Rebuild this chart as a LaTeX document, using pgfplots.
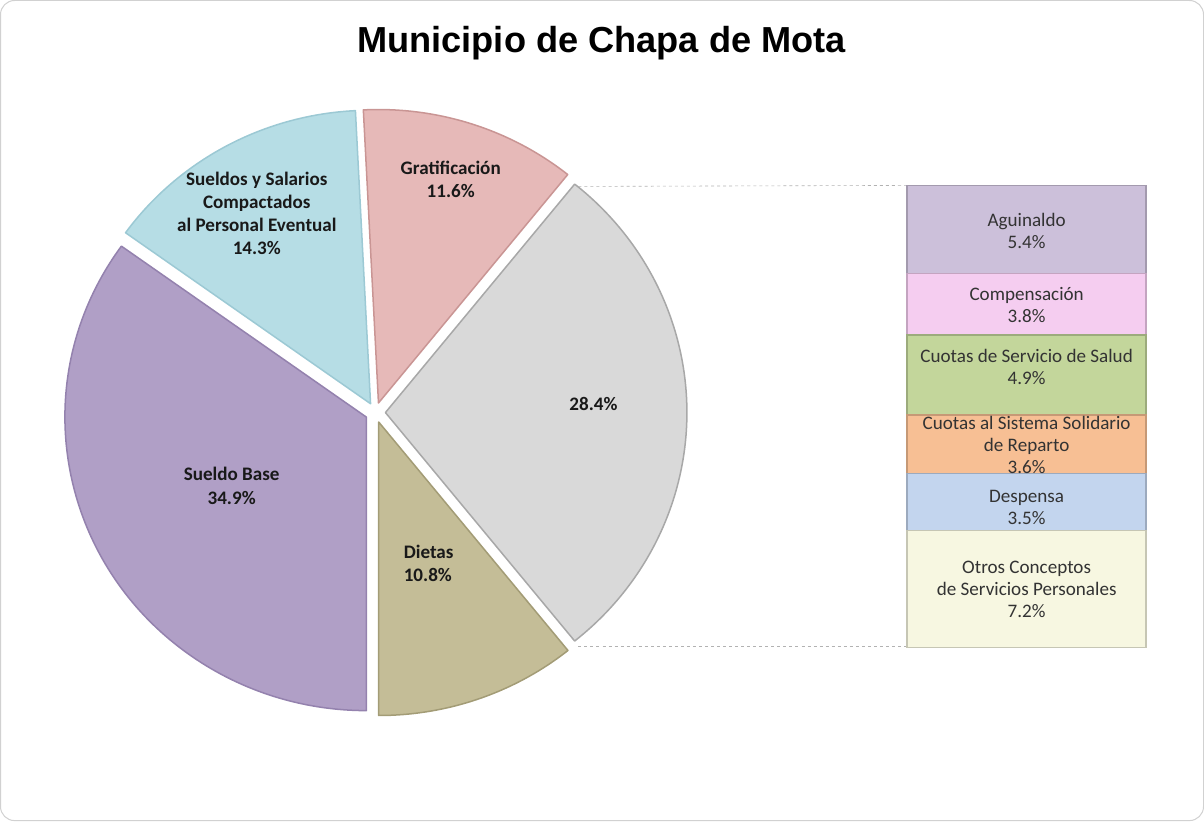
\documentclass[border=0pt]{standalone}
\usepackage{pgfplots}
\pgfplotsset{compat=1.18}
\usepackage{fontspec}
\setmainfont{Carlito}
\newfontfamily\titlefont{Liberation Sans}
\definecolor{cGray}{HTML}{D9D9D9}\definecolor{dGray}{HTML}{A8A8A8}
\definecolor{cGrat}{HTML}{E6B9B8}\definecolor{dGrat}{HTML}{C99594}
\definecolor{cSyS}{HTML}{B6DDE5}\definecolor{dSyS}{HTML}{9CC9D4}
\definecolor{cSB}{HTML}{B09FC6}\definecolor{dSB}{HTML}{9482AE}
\definecolor{cDiet}{HTML}{C4BD97}\definecolor{dDiet}{HTML}{A39C76}
\definecolor{cAgu}{HTML}{CCC0DA}
\definecolor{cComp}{HTML}{F5CDF0}
\definecolor{cSal}{HTML}{C3D69B}
\definecolor{cSis}{HTML}{F7BF94}
\definecolor{cDesp}{HTML}{C3D5EE}
\definecolor{cOtr}{HTML}{F7F7E1}
\begin{document}
\begin{tikzpicture}
\begin{axis}[at={(0pt,0pt)}, anchor=south west, width=1204pt, height=824pt,
  scale only axis, xmin=0, xmax=1204, ymin=0, ymax=824, hide axis, clip=false]
% frame
\draw[draw=black!18, line width=1pt, rounded corners=14pt] (axis cs:3,4) rectangle (axis cs:1200,820);
% pie: value/fill/draw, counterclockwise from the "other" slice centred on 0 deg
\foreach \v/\fc/\dc [remember=\aend as \astart (initially -51.12)] in
   {28.4/cGray/dGray, 11.6/cGrat/dGrat, 14.3/cSyS/dSyS, 34.9/cSB/dSB, 10.8/cDiet/dDiet} {
  \pgfmathsetmacro\aend{\astart+3.6*\v}
  \pgfmathsetmacro\amid{(\astart+\aend)/2}
  \pgfmathsetmacro\ax{376+10*cos(\amid)}
  \pgfmathsetmacro\ay{410+10*sin(\amid)}
  \pgfmathsetmacro\sx{300*cos(\astart)}
  \pgfmathsetmacro\sy{292*sin(\astart)}
  \edef\temp{\noexpand\filldraw[fill=\fc, draw=\dc, line width=1.5pt, line join=round]
     (axis cs:\ax,\ay) -- ++(\sx pt,\sy pt)
     arc[start angle=\astart, end angle=\aend, x radius=300pt, y radius=292pt] -- cycle;}
  \temp
}
% connector lines
\draw[black!30, dashed, line width=0.6pt] (axis cs:578,635) -- (axis cs:905,636);
\draw[black!30, dashed, line width=0.6pt] (axis cs:578,177) -- (axis cs:905,177);
% title
\node[anchor=base, font=\titlefont\bfseries\fontsize{36}{40}\selectfont] at (axis cs:601,768) {Municipio de Chapa de Mota};
% pie labels
\begin{scope}[every node/.style={align=center, text=black!90, font=\bfseries\fontsize{19}{23}\selectfont}]
\node at (axis cs:258,608) {Sueldos y Salarios\\Compactados\\al Personal Eventual\\14.3\%};
\node at (axis cs:451,642) {Gratificación\\11.6\%};
\node at (axis cs:593,419) {28.4\%};
\node at (axis cs:233,337) {Sueldo Base\\34.9\%};
\node[align=left] at (axis cs:429,260) {Dietas\\10.8\%};
\end{scope}
\end{axis}
\begin{axis}[at={(905pt,176pt)}, anchor=south west, width=238pt, height=460pt,
  scale only axis, xmin=-0.5, xmax=0.5, ymin=0, ymax=28.4, hide axis, clip=false,
  ybar stacked, bar width=1]
\addplot[fill=cOtr, draw=cOtr!80!black, line width=1.5pt] coordinates {(0,7.2)};
\addplot[fill=cDesp, draw=cDesp!80!black, line width=1.5pt] coordinates {(0,3.5)};
\addplot[fill=cSis, draw=cSis!80!black, line width=1.5pt] coordinates {(0,3.6)};
\addplot[fill=cSal, draw=cSal!80!black, line width=1.5pt] coordinates {(0,4.9)};
\addplot[fill=cComp, draw=cComp!80!black, line width=1.5pt] coordinates {(0,3.8)};
\addplot[fill=cAgu, draw=cAgu!80!black, line width=1.5pt] coordinates {(0,5.4)};
\end{axis}
\begin{axis}[at={(0pt,0pt)}, anchor=south west, width=1204pt, height=824pt,
  scale only axis, xmin=0, xmax=1204, ymin=0, ymax=824, hide axis, clip=false]
\begin{scope}[every node/.style={align=center, text=black!80, font=\fontsize{19}{22}\selectfont}]
\node at (axis cs:1024,591) {Aguinaldo\\5.4\%};
\node at (axis cs:1024,517) {Compensación\\3.8\%};
\node at (axis cs:1024,455) {Cuotas de Servicio de Salud\\4.9\%};
\node at (axis cs:1024,378) {Cuotas al Sistema Solidario\\de Reparto\\3.6\%};
\node at (axis cs:1024,316) {Despensa\\3.5\%};
\node at (axis cs:1024,234) {Otros Conceptos\\de Servicios Personales\\7.2\%};
\end{scope}
\end{axis}
\end{tikzpicture}
\end{document}
